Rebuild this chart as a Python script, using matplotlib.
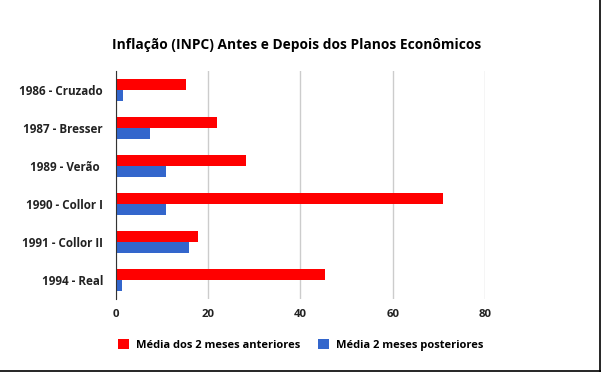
import matplotlib.pyplot as plt
import numpy as np

# data
planos = ["1986 - Cruzado", "1987 - Bresser", "1989 - Verão ", "1990 - Collor I",
          "1991 - Collor II", "1994 - Real"]
antes = [15.2, 22.0, 28.2, 71.0, 17.8, 45.3]
depois = [1.6, 7.5, 10.9, 10.9, 15.9, 1.4]
xticks = [0, 20, 40, 60, 80]

plt.rcParams['font.family'] = ['Open Sans', 'DejaVu Sans']

fig = plt.figure(figsize=(6.01, 3.72), dpi=100)
ax = fig.add_axes([0.1922, 0.196, 0.6148, 0.613])

y = np.arange(len(planos))
h = 0.29
ax.barh(y - h / 2, antes, height=h, color="#ff0000", label="Média dos 2 meses anteriores", zorder=3)
ax.barh(y + h / 2, depois, height=h, color="#3366cc", label="Média 2 meses posteriores", zorder=3)

ax.set_ylim(len(planos) - 0.5, -0.5)
ax.set_xlim(0, 80)
ax.set_yticks(y)
ax.set_yticklabels(planos, fontsize=8.4, fontweight="bold", color="#222222")
ax.set_xticks(xticks)
ax.set_xticklabels([str(t) for t in xticks], fontsize=8.2, fontweight="bold", color="#222222")
ax.tick_params(axis="y", length=0, pad=9)
ax.tick_params(axis="x", length=0, pad=7)

ax.grid(axis="x", color="#cccccc", linewidth=1, zorder=0)
for s in ["top", "right", "bottom"]:
    ax.spines[s].set_visible(False)
ax.spines["left"].set_color("#333333")
ax.spines["left"].set_zorder(4)

fig.text(0.493, 0.879, "Inflação (INPC) Antes e Depois dos Planos Econômicos",
         ha="center", va="center", fontsize=9.9, fontweight="bold", color="#000000")

fig.legend(loc="center", bbox_to_anchor=(0.50, 0.073), ncol=2, frameon=False,
           prop={"size": 8, "weight": "bold"}, handlelength=1.0, handleheight=1.0,
           handletextpad=0.6, columnspacing=1.6)

# thin frame on the right and bottom edges
fig.add_artist(plt.Line2D([0.9985, 0.9985], [0, 1], color="black", linewidth=1.2,
                          transform=fig.transFigure))
fig.add_artist(plt.Line2D([0, 1], [0.0015, 0.0015], color="black", linewidth=1.2,
                          transform=fig.transFigure))

fig.savefig("out.png", dpi=100)
